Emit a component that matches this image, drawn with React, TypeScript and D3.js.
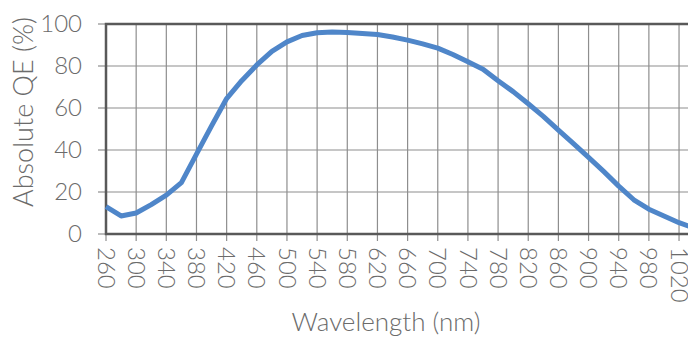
import React, { useRef, useEffect } from "react";
import * as d3 from "d3";

// wavelength (nm) and absolute QE (%)
const wavelengths = [
  260, 280, 300, 320, 340, 360, 380, 400, 420, 440, 460, 480, 500, 520, 540,
  560, 580, 600, 620, 640, 660, 680, 700, 720, 740, 760, 780, 800, 820, 840,
  860, 880, 900, 920, 940, 960, 980, 1000, 1020, 1040,
];
const qe = [
  13, 8.6, 10, 14, 18.5, 24.5, 38, 51.5, 64.5, 73, 80.5, 87, 91.5, 94.5, 95.8,
  96.2, 96, 95.5, 95, 93.8, 92.3, 90.5, 88.5, 85.5, 82, 78.5, 73, 67.8, 62, 56,
  49.5, 43, 36.5, 29.8, 22.8, 16.3, 11.8, 8.6, 5.4, 2.8,
];
const xTicks = [
  260, 300, 340, 380, 420, 460, 500, 540, 580, 620, 660, 700, 740, 780, 820,
  860, 900, 940, 980, 1020,
];
const yTicks = [0, 20, 40, 60, 80, 100];

const W = 688;
const H = 337;

export default function App() {
  const svgRef = useRef<SVGSVGElement>(null);

  useEffect(() => {
    const svg = d3.select(svgRef.current);
    svg.selectAll("*").remove();

    const left = 106;
    const top = 24;
    const bottom = 234;
    const font = "Lato, 'Open Sans', sans-serif";
    const textColor = "#6b6b6b";
    const axisColor = "#595959";

    const x = d3.scaleLinear().domain([260, 1040]).range([left, left + 780 * 0.754]);
    const y = d3.scaleLinear().domain([0, 100]).range([bottom, top]);

    const g = svg.append("g");

    // grid
    g.selectAll("line.vgrid")
      .data(xTicks.slice(1))
      .enter()
      .append("line")
      .attr("x1", (d) => x(d))
      .attr("x2", (d) => x(d))
      .attr("y1", top)
      .attr("y2", bottom)
      .style("stroke", "#8e8e8e")
      .style("stroke-width", 1.2);

    g.selectAll("line.hgrid")
      .data(yTicks.slice(1, -1))
      .enter()
      .append("line")
      .attr("x1", left)
      .attr("x2", x(1040))
      .attr("y1", (d) => y(d))
      .attr("y2", (d) => y(d))
      .style("stroke", "#8e8e8e")
      .style("stroke-width", 1.2);

    // tick marks
    g.selectAll("line.ytick")
      .data(yTicks)
      .enter()
      .append("line")
      .attr("x1", left - 8)
      .attr("x2", left)
      .attr("y1", (d) => y(d))
      .attr("y2", (d) => y(d))
      .style("stroke", "#8e8e8e")
      .style("stroke-width", 1.2);

    g.selectAll("line.xtick")
      .data(xTicks)
      .enter()
      .append("line")
      .attr("x1", (d) => x(d))
      .attr("x2", (d) => x(d))
      .attr("y1", bottom)
      .attr("y2", bottom + 7)
      .style("stroke", "#8e8e8e")
      .style("stroke-width", 1.2);

    // frame: top, left, bottom
    g.append("path")
      .attr("d", `M${x(1040)},${top}H${left}V${bottom}H${x(1040)}`)
      .style("fill", "none")
      .style("stroke", axisColor)
      .style("stroke-width", 2.5);

    // curve
    const line = d3
      .line<number>()
      .x((_, i) => x(wavelengths[i]))
      .y((d) => y(d));

    g.append("path")
      .datum(qe)
      .attr("d", line)
      .style("fill", "none")
      .style("stroke", "#4f86c9")
      .style("stroke-width", 5)
      .style("stroke-linejoin", "round");

    // y tick labels
    g.selectAll("text.ylab")
      .data(yTicks)
      .enter()
      .append("text")
      .attr("x", 82)
      .attr("y", (d) => y(d))
      .attr("dy", "0.35em")
      .attr("text-anchor", "end")
      .style("font-family", font)
      .style("font-weight", 300)
      .style("font-size", "24px")
      .style("fill", textColor)
      .text((d) => d);

    // x tick labels (rotated)
    g.selectAll("text.xlab")
      .data(xTicks)
      .enter()
      .append("text")
      .attr("transform", (d) => `translate(${x(d)},247) rotate(90)`)
      .attr("dy", "0.35em")
      .style("font-family", font)
      .style("font-weight", 300)
      .style("font-size", "24px")
      .style("fill", textColor)
      .text((d) => d);

    // axis titles
    g.append("text")
      .attr("transform", "translate(33,112) rotate(-90)")
      .attr("text-anchor", "middle")
      .style("font-family", font)
      .style("font-weight", 300)
      .style("font-size", "27px")
      .style("fill", textColor)
      .text("Absolute QE (%)");

    g.append("text")
      .attr("x", 386)
      .attr("y", 331)
      .attr("text-anchor", "middle")
      .style("font-family", font)
      .style("font-weight", 300)
      .style("font-size", "26px")
      .style("fill", textColor)
      .text("Wavelength (nm)");
  }, []);

  return (
    <svg
      ref={svgRef}
      width={W}
      height={H}
      style={{ position: "absolute", left: 0, top: 0, background: "#fff", overflow: "hidden" }}
    />
  );
}
